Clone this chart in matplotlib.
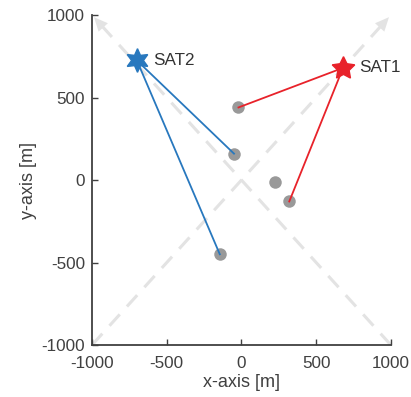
import numpy as np
import matplotlib.pyplot as plt

plt.rcParams['font.family'] = ['Liberation Sans', 'DejaVu Sans']
plt.rcParams['axes.unicode_minus'] = False

# satellite positions [m]
sat_names = ['SAT1', 'SAT2']
sat_x = [680, -700]
sat_y = [680, 725]
sat_colors = ['#e8222a', '#2878be']

# ground nodes [m]
node_x = [-20, -50, 225, 320, -145]
node_y = [440, 160, -10, -130, -450]

# which nodes each satellite links to
links = {'SAT1': [0, 3], 'SAT2': [1, 4]}

# pentagram for SAT1, hexagram for SAT2
sat_markers = [(5, 1, 0), (6, 1, 0)]

fig = plt.figure(figsize=(4.11, 3.97), dpi=100)
ax = fig.add_axes([0.224, 0.131, 0.727, 0.831])

# diagonal guide arrows
for x0, y0, x1, y1 in [(1000, -1000, -1000, 1000), (-1000, -1000, 1000, 1000)]:
    ax.plot([x0, x1 - np.sign(x1) * 60], [y0, y1 - np.sign(y1) * 60],
            color='#e3e3e3', lw=2.2, ls=(0, (5, 3.5)), zorder=1)
    ax.annotate('', xy=(x1, y1), xytext=(x1 - np.sign(x1) * 80, y1 - np.sign(y1) * 80),
                arrowprops=dict(arrowstyle='-|>,head_length=1.0,head_width=0.45',
                                color='#e3e3e3', lw=0), zorder=1)

ax.plot(node_x, node_y, 'o', color='#999999', ms=9, mec='none', zorder=3)

for name, sx, sy, mk, col in zip(sat_names, sat_x, sat_y, sat_markers, sat_colors):
    for i in links[name]:
        ax.plot([sx, node_x[i]], [sy, node_y[i]], color=col, lw=1.3, zorder=4)
    ax.plot(sx, sy, marker=mk, color=col, ms=17, mec=col, mew=1, ls='none', zorder=5)
    ax.text(sx + 110, sy, name, fontsize=12.3, color='#333333', va='center', ha='left')

ax.set_xlim(-1000, 1000)
ax.set_ylim(-1000, 1000)
ax.set_xticks([-1000, -500, 0, 500, 1000])
ax.set_yticks([-1000, -500, 0, 500, 1000])
ax.set_xlabel('x-axis [m]', fontsize=13, color='#404040', labelpad=2)
ax.set_ylabel('y-axis [m]', fontsize=13, color='#404040', labelpad=3)
ax.tick_params(direction='in', length=4, width=1, colors='#404040', labelsize=12.3,
               labelcolor='#404040')
ax.tick_params(axis='x', pad=8)
ax.tick_params(axis='y', pad=5)
ax.spines['top'].set_visible(False)
ax.spines['right'].set_visible(False)
for s in ['left', 'bottom']:
    ax.spines[s].set_color('#404040')
    ax.spines[s].set_linewidth(1.3)

fig.savefig('out.png', dpi=100)
